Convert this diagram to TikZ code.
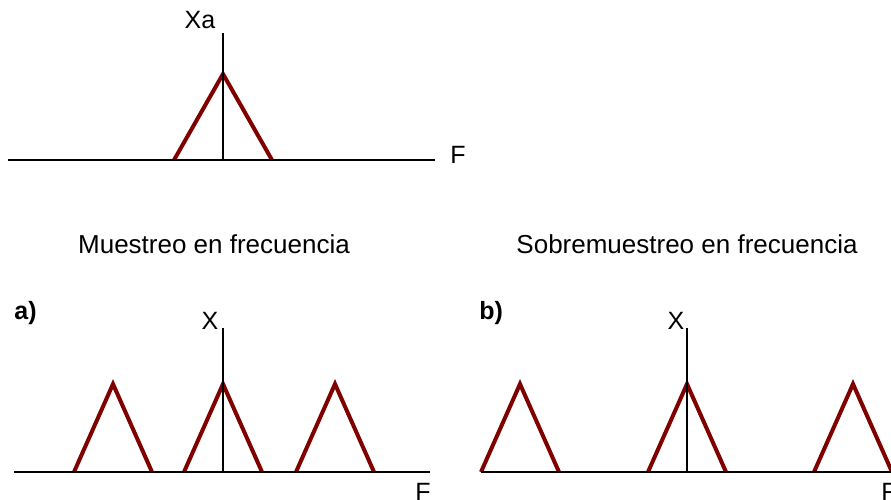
\documentclass[tikz,border=0pt]{standalone}
\usepackage{fontspec}
\setmainfont{Liberation Sans}
\definecolor{specred}{RGB}{128,0,0}

\begin{document}
\begin{tikzpicture}[x=1pt, y=-1pt, thick]
    \tikzstyle{axis}=[draw=black, line width=1.8pt]
    \tikzstyle{tri}=[draw=specred, line width=4pt, line join=miter]
    \tikzstyle{lbl}=[font=\fontsize{25}{30}\selectfont, inner sep=0pt, anchor=base]
    \tikzstyle{title}=[lbl, font=\fontsize{26}{31}\selectfont]
    \useasboundingbox (0,0) rectangle (891,500);

    % analog spectrum Xa
    \coordinate (ha0) at (8,160);
    \coordinate (ha1) at (435,160);
    \coordinate (va0) at (223,160);
    \coordinate (va1) at (223,33);
    \draw[tri] (174,160) -- (223,74) -- (272,160);
    \draw[axis] (ha0) -- (ha1);
    \draw[axis] (va0) -- (va1);
    \node[lbl] (xa) at (200,29) {Xa};
    \node[lbl, anchor=base west] (fa) at (450,164) {F};

    % titles
    \node[title] (ta) at (214,253) {Muestreo en frecuencia};
    \node[title] (tb) at (687,253) {Sobremuestreo en frecuencia};

    % a) sampling
    \coordinate (hb0) at (14,472);
    \coordinate (hb1) at (430,472);
    \coordinate (vb0) at (223,472);
    \coordinate (vb1) at (223,328);
    \foreach \c in {113,223,335}
      \draw[tri] (\c-39,472) -- (\c,384) -- (\c+39,472);
    \draw[axis] (hb0) -- (hb1);
    \draw[axis] (vb0) -- (vb1);
    \node[lbl, font=\fontsize{25}{30}\selectfont\bfseries, anchor=base west] (la) at (14,319) {a)};
    \node[lbl] (xb) at (210,329) {X};
    \node[lbl, anchor=base west] (fb) at (415,500) {F};

    % b) oversampling
    \coordinate (hc0) at (481,472);
    \coordinate (hc1) at (891,472);
    \coordinate (vc0) at (687,472);
    \coordinate (vc1) at (687,328);
    \foreach \c in {520,687,853}
      \draw[tri] (\c-39,472) -- (\c,384) -- (\c+39,472);
    \draw[axis] (hc0) -- (hc1);
    \draw[axis] (vc0) -- (vc1);
    \node[lbl, font=\fontsize{25}{30}\selectfont\bfseries, anchor=base west] (lb) at (479,319) {b)};
    \node[lbl] (xc) at (676,329) {X};
    \node[lbl, anchor=base west] (fc) at (881,500) {F};
  \end{tikzpicture}
\end{document}
